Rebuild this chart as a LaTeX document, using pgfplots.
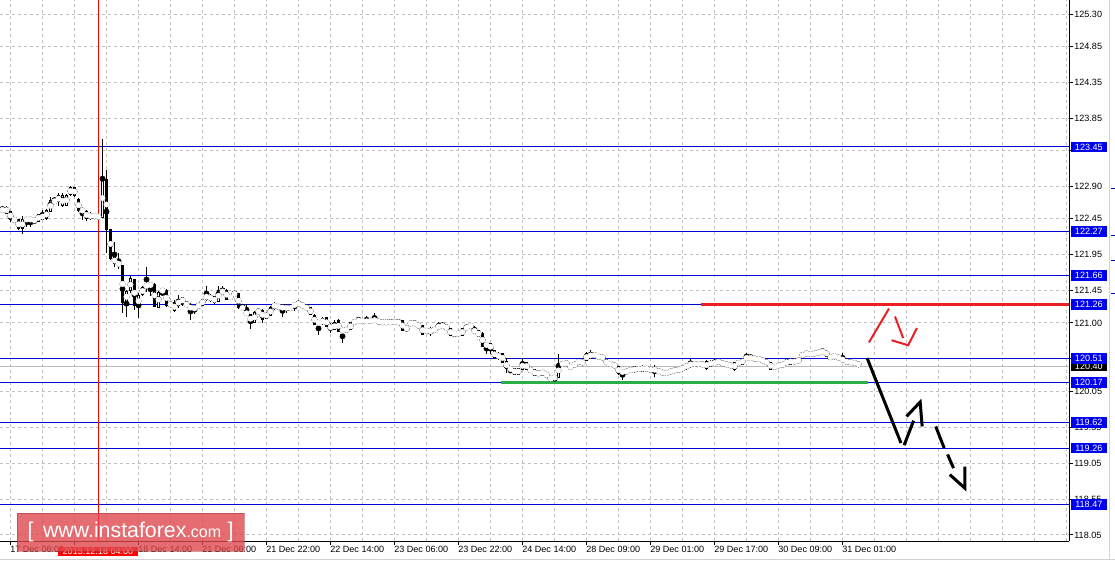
\documentclass[border=0pt]{standalone}
\usepackage{pgfplots}
\usepackage{pgfplotstable}
\pgfplotsset{compat=1.18}
\usepackage{fontspec}
\setmainfont{Liberation Sans}
\newlength\px
\setlength\px{0.75pt}
\definecolor{lvl}{RGB}{0,0,215}
\definecolor{lvlbox}{RGB}{0,0,240}
\definecolor{grd}{RGB}{192,192,192}
\definecolor{mtred}{RGB}{235,30,35}
\definecolor{mtgreen}{RGB}{40,175,70}
\definecolor{wm}{RGB}{222,72,78}

% USDJPY H1 candles, index i = bar number from the left edge
\pgfplotstableread{
i o h l c
0 122.55 122.63 122.54 122.60
1 122.61 122.63 122.52 122.53
2 122.55 122.56 122.40 122.44
3 122.45 122.46 122.41 122.42
4 122.44 122.45 122.30 122.31
5 122.31 122.49 122.24 122.44
6 122.44 122.46 122.34 122.44
7 122.44 122.46 122.34 122.44
8 122.44 122.45 122.39 122.42
9 122.42 122.52 122.41 122.51
10 122.52 122.58 122.43 122.44
11 122.45 122.59 122.43 122.57
12 122.55 122.76 122.54 122.71
13 122.72 122.76 122.66 122.67
14 122.69 122.81 122.63 122.77
15 122.63 122.81 122.62 122.77
16 122.64 122.80 122.63 122.78
17 122.79 122.90 122.77 122.88
18 122.88 122.90 122.76 122.78
19 122.72 122.74 122.54 122.56
20 122.58 122.61 122.44 122.55
21 122.55 122.58 122.42 122.46
22 122.49 122.54 122.43 122.49
23 122.49 122.51 122.46 122.49
24 122.48 122.51 122.45 122.48
25 122.47 123.56 122.46 123.01
26 123.00 123.13 121.97 122.30
27 122.30 122.31 121.88 121.90
28 121.91 122.13 121.78 121.83
29 121.85 121.97 121.75 121.80
30 121.80 121.81 121.14 121.29
31 121.29 121.46 121.08 121.44
32 121.45 121.65 121.42 121.62
33 121.60 121.61 121.18 121.24
34 121.22 121.42 121.07 121.39
35 121.39 121.52 121.38 121.50
36 121.53 121.78 121.43 121.51
37 121.54 121.57 121.37 121.52
38 121.54 121.56 121.22 121.23
39 121.22 121.45 121.21 121.43
40 121.45 121.46 121.38 121.45
41 121.46 121.47 121.23 121.24
42 121.26 121.29 121.23 121.26
43 121.28 121.32 121.16 121.17
44 121.24 121.39 121.21 121.33
45 121.28 121.36 121.24 121.35
46 121.28 121.30 121.23 121.24
47 121.26 121.28 121.04 121.17
48 121.18 121.25 121.12 121.23
49 121.21 121.28 121.20 121.27
50 121.25 121.34 121.24 121.33
51 121.33 121.51 121.31 121.40
52 121.39 121.40 121.30 121.31
53 121.37 121.38 121.27 121.28
54 121.30 121.52 121.29 121.46
55 121.47 121.51 121.40 121.41
56 121.46 121.47 121.32 121.33
57 121.33 121.40 121.32 121.39
58 121.39 121.44 121.38 121.42
59 121.41 121.42 121.19 121.21
60 121.23 121.27 121.18 121.19
61 121.16 121.27 121.10 121.11
62 121.12 121.13 120.92 121.00
63 121.01 121.17 121.00 121.15
64 121.14 121.20 121.13 121.18
65 121.18 121.20 121.00 121.05
66 121.07 121.15 121.06 121.14
67 121.11 121.24 121.10 121.21
68 121.22 121.29 121.18 121.26
69 121.25 121.26 121.19 121.20
70 121.18 121.26 121.08 121.25
71 121.25 121.27 121.14 121.17
72 121.19 121.24 121.18 121.23
73 121.23 121.29 121.17 121.27
74 121.28 121.30 121.25 121.26
75 121.23 121.27 121.22 121.26
76 121.23 121.25 121.19 121.20
77 121.21 121.22 121.11 121.12
78 121.11 121.12 120.97 120.98
79 121.01 121.02 120.83 121.00
80 120.99 121.08 120.97 121.06
81 121.07 121.08 120.94 120.95
82 120.95 121.00 120.86 120.93
83 120.91 121.04 120.90 121.00
84 121.04 121.05 120.87 120.88
85 120.90 120.91 120.72 120.89
86 120.88 120.95 120.86 120.93
87 120.91 121.01 120.90 121.00
88 120.98 121.06 120.97 121.05
89 121.01 121.09 121.00 121.06
90 121.06 121.07 120.99 121.00
91 121.00 121.10 120.99 121.05
92 121.05 121.06 121.00 121.01
93 121.04 121.14 121.00 121.04
94 121.04 121.05 120.99 121.00
95 121.01 121.05 120.97 121.01
96 121.01 121.04 120.98 121.01
97 121.01 121.03 121.00 121.01
98 121.03 121.04 120.99 121.00
99 121.01 121.03 121.00 121.01
100 121.03 121.04 120.89 120.90
101 120.90 120.96 120.88 120.95
102 120.97 121.03 120.96 121.02
103 120.98 121.03 120.97 121.01
104 120.99 121.00 120.93 120.94
105 120.96 120.97 120.83 120.84
106 120.87 120.92 120.86 120.91
107 120.86 120.94 120.82 120.91
108 120.92 120.93 120.88 120.89
109 120.92 121.01 120.91 120.98
110 120.98 121.01 120.93 120.94
111 120.96 120.97 120.91 120.92
112 120.92 120.93 120.82 120.83
113 120.87 120.88 120.81 120.83
114 120.83 120.89 120.82 120.88
115 120.83 120.93 120.82 120.92
116 120.92 120.97 120.91 120.95
117 120.96 120.98 120.93 120.96
118 120.92 120.96 120.85 120.86
119 120.89 120.90 120.80 120.81
120 120.86 120.87 120.66 120.67
121 120.71 120.72 120.57 120.68
122 120.71 120.72 120.57 120.63
123 120.62 120.63 120.50 120.51
124 120.50 120.59 120.49 120.58
125 120.58 120.59 120.44 120.45
126 120.46 120.51 120.30 120.37
127 120.36 120.38 120.30 120.36
128 120.36 120.37 120.28 120.29
129 120.28 120.38 120.27 120.37
130 120.36 120.51 120.35 120.45
131 120.45 120.46 120.34 120.35
132 120.37 120.38 120.31 120.32
133 120.35 120.36 120.26 120.27
134 120.27 120.34 120.26 120.33
135 120.32 120.34 120.27 120.30
136 120.28 120.29 120.27 120.28
137 120.19 120.27 120.18 120.26
138 120.25 120.26 120.19 120.23
139 120.24 120.57 120.23 120.44
140 120.40 120.47 120.39 120.46
141 120.46 120.47 120.41 120.42
142 120.39 120.41 120.37 120.39
143 120.39 120.46 120.38 120.45
144 120.46 120.47 120.44 120.46
145 120.42 120.49 120.41 120.48
146 120.48 120.60 120.47 120.57
147 120.59 120.62 120.50 120.51
148 120.52 120.60 120.51 120.59
149 120.56 120.57 120.49 120.50
150 120.49 120.56 120.48 120.55
151 120.49 120.50 120.41 120.42
152 120.45 120.46 120.40 120.41
153 120.43 120.44 120.38 120.39
154 120.39 120.40 120.28 120.30
155 120.32 120.35 120.21 120.32
156 120.30 120.36 120.29 120.35
157 120.32 120.38 120.31 120.37
158 120.39 120.40 120.31 120.32
159 120.33 120.40 120.32 120.39
160 120.40 120.41 120.32 120.33
161 120.35 120.39 120.34 120.38
162 120.38 120.39 120.31 120.32
163 120.35 120.41 120.25 120.35
164 120.36 120.37 120.29 120.30
165 120.34 120.35 120.27 120.28
166 120.28 120.34 120.27 120.33
167 120.31 120.35 120.30 120.34
168 120.32 120.37 120.31 120.36
169 120.33 120.38 120.32 120.37
170 120.35 120.40 120.34 120.39
171 120.36 120.45 120.35 120.44
172 120.39 120.50 120.38 120.46
173 120.44 120.45 120.41 120.42
174 120.44 120.45 120.41 120.42
175 120.44 120.45 120.40 120.41
176 120.47 120.48 120.35 120.36
177 120.40 120.48 120.39 120.47
178 120.47 120.50 120.41 120.42
179 120.48 120.49 120.43 120.44
180 120.46 120.47 120.41 120.42
181 120.44 120.45 120.40 120.41
182 120.44 120.45 120.37 120.38
183 120.35 120.46 120.33 120.45
184 120.42 120.48 120.41 120.47
185 120.43 120.51 120.42 120.50
186 120.50 120.58 120.49 120.53
187 120.53 120.56 120.49 120.50
188 120.52 120.53 120.48 120.49
189 120.51 120.52 120.48 120.49
190 120.49 120.50 120.46 120.47
191 120.48 120.49 120.42 120.43
192 120.45 120.46 120.35 120.36
193 120.42 120.43 120.35 120.36
194 120.42 120.43 120.39 120.40
195 120.44 120.45 120.39 120.40
196 120.42 120.50 120.41 120.49
197 120.43 120.51 120.42 120.50
198 120.49 120.50 120.43 120.44
199 120.46 120.51 120.45 120.50
200 120.52 120.60 120.51 120.59
201 120.55 120.61 120.54 120.60
202 120.60 120.61 120.53 120.54
203 120.55 120.61 120.54 120.60
204 120.57 120.62 120.56 120.61
205 120.59 120.64 120.58 120.62
206 120.61 120.62 120.53 120.54
207 120.55 120.56 120.49 120.50
208 120.54 120.55 120.52 120.54
209 120.52 120.53 120.51 120.52
210 120.52 120.58 120.45 120.46
211 120.48 120.49 120.43 120.44
212 120.47 120.48 120.43 120.44
213 120.46 120.47 120.42 120.43
214 120.45 120.46 120.39 120.40
}\candles

\begin{document}
\begin{tikzpicture}
\useasboundingbox (0,-21\px) rectangle (1115\px,541\px);
\begin{axis}[
  at={(0,0)}, anchor=south west,
  scale only axis, width=1069\px, height=541\px,
  xmin=-0.625, xmax=266.625, ymin=117.966, ymax=125.495,
  axis x line*=bottom, axis y line*=right,
  axis line style={black, line width=1\px},
  tick align=outside, major tick length=4\px, minor tick length=0pt,
  tick style={black, line width=1\px},
  xtick={2,18,...,210},
  xticklabels={17 Dec 06:00,,18 Dec 14:00,21 Dec 06:00,21 Dec 22:00,22 Dec 14:00,23 Dec 06:00,23 Dec 22:00,24 Dec 14:00,28 Dec 09:00,29 Dec 01:00,29 Dec 17:00,30 Dec 09:00,31 Dec 01:00},
  minor xtick={10,26,...,266,226,242,258},
  xmajorgrids, xminorgrids, ymajorgrids,
  grid style={grd, line width=1\px, dash pattern=on 3\px off 3\px},
  ytick={118.05,118.55,119.05,119.55,120.05,120.50,121.00,121.45,121.95,122.45,122.90,123.40,123.85,124.35,124.85,125.30},
  yticklabels={118.05,118.55,119.05,119.55,120.05,,121.00,121.45,121.95,122.45,122.90,,123.85,124.35,124.85,125.30},
  tick label style={font=\fontsize{6.8}{8}\selectfont, inner sep=1\px},
  xticklabel style={anchor=north west, xshift=-1.5\px},
  yticklabel style={anchor=west},
]
% support / resistance levels
\pgfplotsinvokeforeach{123.45,122.27,121.66,121.26,120.51,120.17,119.62,119.26,118.47}{
  \addplot[lvl, line width=1\px] coordinates {(-1,#1) (267,#1)};
}
\addplot[gray!55, line width=1\px] coordinates {(-1,120.40) (267,120.40)};
\addplot[red, line width=1\px] coordinates {(24,117) (24,126)};
\addplot[mtred, line width=3\px] coordinates {(174.6,121.26) (267,121.26)};
\addplot[mtgreen, line width=3\px] coordinates {(124.6,120.17) (216.3,120.17)};

% candles: wicks, bodies, hollow bull bodies
\addplot[black, only marks, mark=none, error bars/.cd, y dir=both, y explicit, error mark=none,
  error bar style={draw=black, line width=1\px, line cap=butt}]
  table[x=i, y expr={(\thisrow{h}+\thisrow{l})/2}, y error expr={(\thisrow{h}-\thisrow{l})/2}] {\candles};
\addplot[black, only marks, mark=none, error bars/.cd, y dir=both, y explicit, error mark=none,
  error bar style={draw=black, line width=3\px, line cap=butt}]
  table[x=i, y expr={(\thisrow{o}+\thisrow{c})/2}, y error expr={abs(\thisrow{c}-\thisrow{o})/2+0.007}] {\candles};
\addplot[white, only marks, mark=none, error bars/.cd, y dir=both, y explicit, error mark=none,
  error bar style={color=white, draw=white, line width=1\px, line cap=butt}]
  table[x=i, y expr={(\thisrow{o}+\thisrow{c})/2}, y error expr={max((\thisrow{c}-\thisrow{o})/2-0.007,0)}] {\candles};

% forecast arrows
\addplot[mtred, line width=2\px] coordinates {(216.6,120.73) (221.6,121.20)};
\addplot[mtred, line width=2\px] coordinates {(223.1,121.09) (225.15,120.79)};
\addplot[mtred, line width=2\px] coordinates {(222.25,120.76) (226.4,120.69) (228.6,120.93)};
\addplot[black, line width=3\px] coordinates {(216.15,120.51) (224.6,119.33)};
\addplot[black, line width=3\px] coordinates {(225.4,119.30) (227.75,119.64)};
\addplot[black, line width=3\px] coordinates {(226.0,119.70) (229.4,119.90) (229.9,119.56)};
\addplot[black, line width=3\px] coordinates {(233.3,119.56) (235.4,119.26)};
\addplot[black, line width=3\px] coordinates {(236.25,119.17) (237.75,118.98)};
\addplot[black, line width=3\px] coordinates {(236.8,118.89) (240.6,118.70) (240.6,119.00)};

\coordinate (b1) at (axis cs:266.625,123.45);
\coordinate (b2) at (axis cs:266.625,122.27);
\coordinate (b3) at (axis cs:266.625,121.66);
\coordinate (b4) at (axis cs:266.625,121.26);
\coordinate (b5) at (axis cs:266.625,120.51);
\coordinate (b6) at (axis cs:266.625,120.17);
\coordinate (b7) at (axis cs:266.625,119.62);
\coordinate (b8) at (axis cs:266.625,119.26);
\coordinate (b9) at (axis cs:266.625,118.47);
\coordinate (bid) at (axis cs:266.625,120.40);
\end{axis}

\tikzset{lb/.style={fill=lvlbox, text=white, anchor=west, inner sep=0pt,
  minimum width=36\px, minimum height=10.7\px, font=\fontsize{6.8}{8}\selectfont}}
\node[lb, fill=black] at ([xshift=1.5\px]bid) {120.40};
\node[lb] at ([xshift=1.5\px]b1) {123.45};
\node[lb] at ([xshift=1.5\px]b2) {122.27};
\node[lb] at ([xshift=1.5\px]b3) {121.66};
\node[lb] at ([xshift=1.5\px]b4) {121.26};
\node[lb] at ([xshift=1.5\px]b5) {120.51};
\node[lb] at ([xshift=1.5\px]b6) {120.17};
\node[lb] at ([xshift=1.5\px]b7) {119.62};
\node[lb] at ([xshift=1.5\px]b8) {119.26};
\node[lb] at ([xshift=1.5\px]b9) {118.47};

% right strip and bottom edge
\draw[gray!35, line width=1\px] (1109\px,-18\px) -- (1109\px,541\px);
\draw[gray!35, line width=1\px] (0,-18\px) -- (1115\px,-18\px);
\foreach \yy in {353,306,281,248} \draw[lvl, line width=1\px] (1111\px,\yy\px) -- (1115\px,\yy\px);

% crosshair date label
\node[fill=red, text=white, inner sep=0pt, minimum width=80\px, minimum height=9.5\px,
  font=\fontsize{6.8}{8}\selectfont] at (98\px,-10.5\px) {2015.12.18 04:00};

% watermark
\node[fill=wm, fill opacity=0.8, text opacity=1, text=white, draw=wm!75!black, draw opacity=0.5,
  minimum width=227\px, minimum height=38\px, inner sep=0pt,
  font=\fontsize{16}{18}\selectfont] at (130.5\px,9\px)
  {[\hspace{0.45em}www.instaforex{\fontsize{12}{14}\selectfont.com}\hspace{0.3em}]};
\end{tikzpicture}
\end{document}
